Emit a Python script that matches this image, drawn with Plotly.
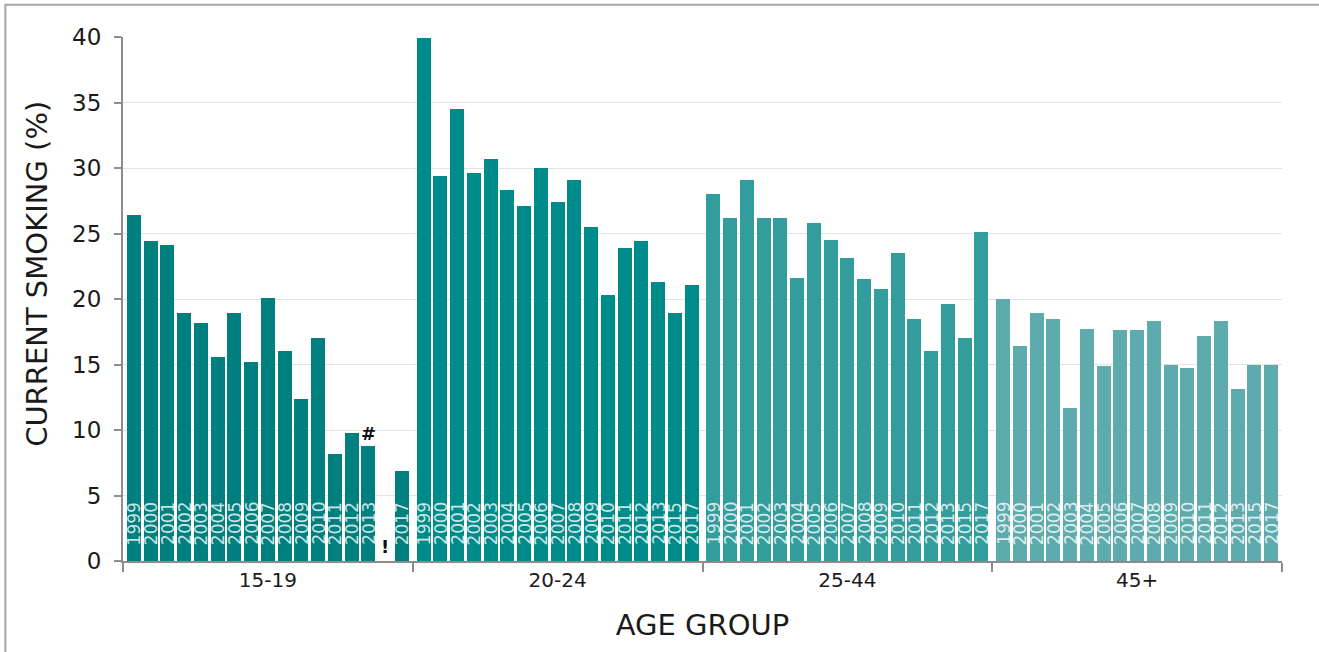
import plotly.graph_objects as go

groups = ["15-19", "20-24", "25-44", "45+"]
years = ["1999", "2000", "2001", "2002", "2003", "2004", "2005", "2006", "2007",
         "2008", "2009", "2010", "2011", "2012", "2013", "2015", "2017"]

smoking_15_19 = [26.4, 24.4, 24.1, 18.9, 18.2, 15.6, 18.9, 15.2, 20.1, 16.0, 12.4, 17.0, 8.2, 9.8, 8.8, None, 6.9]
smoking_20_24 = [39.9, 29.4, 34.5, 29.6, 30.7, 28.3, 27.1, 30.0, 27.4, 29.1, 25.5, 20.3, 23.9, 24.4, 21.3, 18.9, 21.1]
smoking_25_44 = [28.0, 26.2, 29.1, 26.2, 26.2, 21.6, 25.8, 24.5, 23.1, 21.5, 20.8, 23.5, 18.5, 16.0, 19.6, 17.0, 25.1]
smoking_45_plus = [20.0, 16.4, 18.9, 18.5, 11.7, 17.7, 14.9, 17.6, 17.6, 18.3, 15.0, 14.7, 17.2, 18.3, 13.1, 15.0, 15.0]

series = [smoking_15_19, smoking_20_24, smoking_25_44, smoking_45_plus]
colors = ["#007f7f", "#008b8b", "#339c9d", "#5eabad"]

# annotation flags (15-19 group)
flag_hash_year = "2013"
flag_missing_year = "2015"

GW = 17.3   # group width in slot units
PAD = 0.65  # offset of first bar center from group start

FONT = "DejaVu Sans"
TXT = "#1a1a1a"
fig = go.Figure()

for k, (g, vals) in enumerate(zip(groups, series)):
    xs = [k * GW + PAD + i for i in range(len(years))]
    fig.add_trace(go.Bar(
        x=xs, y=vals, name=g,
        marker=dict(color=colors[k], line=dict(width=0)),
        width=0.84,
        hovertext=[f"{g} {y}" for y in years],
        hoverinfo="text+y",
        showlegend=False,
    ))
    for x, y, v in zip(xs, years, vals):
        if v is None:
            continue
        fig.add_annotation(x=x, y=0, text=y, textangle=-90, showarrow=False,
                           yanchor="bottom", xanchor="center", yshift=15,
                           borderpad=0,
                           font=dict(family=FONT, size=17, color="rgba(255,255,255,0.8)"))

# flags for 15-19
i_hash = years.index(flag_hash_year)
i_miss = years.index(flag_missing_year)
fig.add_annotation(x=PAD + i_hash, y=smoking_15_19[i_hash], text="<b>#</b>",
                   showarrow=False, yanchor="bottom", yshift=0,
                   font=dict(family=FONT, size=18, color="#111"))
fig.add_annotation(x=PAD + i_miss, y=0, text="<b>!</b>",
                   showarrow=False, yanchor="bottom", yshift=2,
                   font=dict(family=FONT, size=18, color="#111"))

# y-axis title
fig.add_annotation(xref="paper", yref="paper", x=-0.0742, y=0.548,
                   text="CURRENT SMOKING (%)", textangle=-90, showarrow=False,
                   xanchor="center", yanchor="middle",
                   font=dict(family=FONT, size=29, color=TXT))

boundaries = [k * GW for k in range(len(groups) + 1)]
centers = [k * GW + GW / 2 for k in range(len(groups))]

fig.update_layout(
    width=1319, height=652,
    margin=dict(l=123, r=37, t=37, b=91),
    paper_bgcolor="white", plot_bgcolor="white",
    bargap=0,
    font=dict(family=FONT, color=TXT),
    xaxis=dict(
        range=[0, len(groups) * GW],
        tickmode="array", tickvals=centers, ticktext=groups,
        ticks="", showgrid=False, zeroline=False,
        showline=True, linecolor="#8c8c8c", linewidth=2,
        tickfont=dict(family=FONT, size=20, color=TXT),
        minor=dict(tickmode="array", tickvals=boundaries, ticks="outside",
                   ticklen=9, tickwidth=2, tickcolor="#8c8c8c", showgrid=False),
        title=dict(text="AGE GROUP", font=dict(family=FONT, size=29, color=TXT), standoff=24),
    ),
    yaxis=dict(
        range=[0, 40], tickmode="array", tickvals=[0, 5, 10, 15, 20, 25, 30, 35, 40],
        ticks="outside", ticklen=7, tickwidth=1.5, tickcolor="#8c8c8c",
        showgrid=True, gridcolor="#e3e3e3", gridwidth=1, zeroline=False,
        showline=True, linecolor="#8c8c8c", linewidth=2,
        ticklabelstandoff=8,
        tickfont=dict(family=FONT, size=23, color=TXT),
    ),
)

# outer page frame (left and top edges)
fig.add_shape(type="path", xref="paper", yref="paper",
              path="M -0.1015,-0.3 L -0.1015,1.0615 L 1.2,1.0615",
              line=dict(color="#a6a6a6", width=2))

fig.write_html("out.html", config={"displayModeBar": False},
               post_script="document.body.style.margin='0';")
